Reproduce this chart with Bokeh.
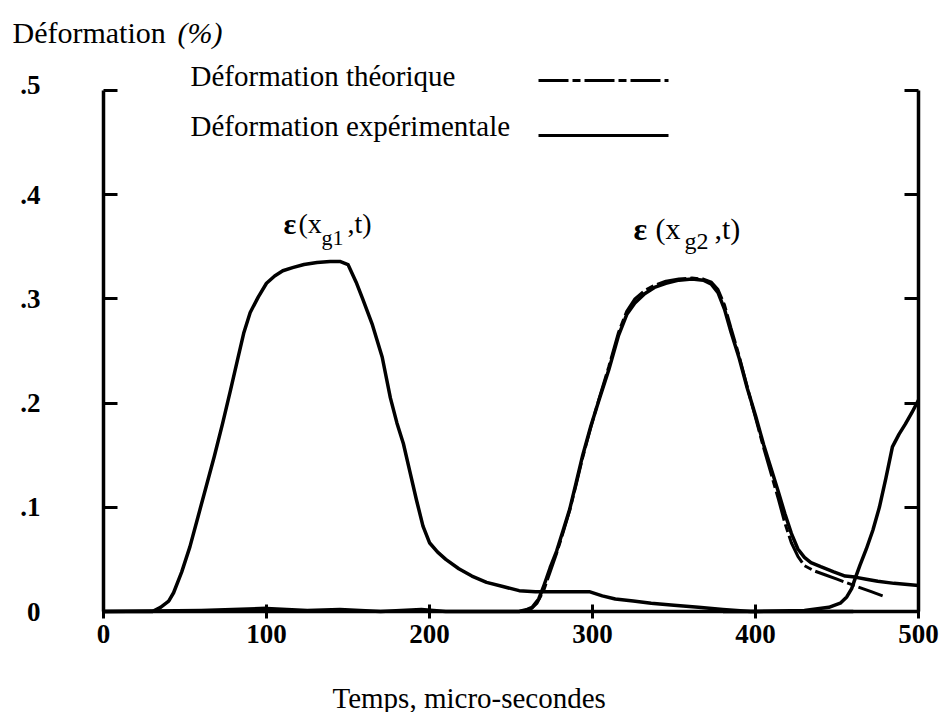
from bokeh.plotting import figure
from bokeh.models import Range1d, LinearAxis, FixedTicker, CustomJSTickFormatter, Label
from bokeh.embed import file_html
from bokeh.resources import INLINE

# ---------------- data ----------------
# experimental strain, gauge 1
t_exp1 = [0, 30, 35, 40, 43, 48, 53, 58, 63, 68, 73, 78, 82, 86, 90, 95, 100, 105, 110, 116,
          123, 131, 139, 145, 150, 155, 159, 165, 171, 176, 180, 184, 188, 192, 196, 200, 205,
          210, 218, 226, 235, 245, 255, 265, 280, 298, 306, 314, 325, 336, 350, 365, 380, 397, 460]
e_exp1 = [0, 0, 0.004, 0.010, 0.018, 0.038, 0.062, 0.091, 0.120, 0.149, 0.180, 0.213, 0.240,
          0.267, 0.287, 0.302, 0.315, 0.322, 0.327, 0.330, 0.333, 0.335, 0.336, 0.336, 0.333,
          0.316, 0.300, 0.275, 0.244, 0.205, 0.181, 0.161, 0.134, 0.107, 0.082, 0.066, 0.057,
          0.050, 0.041, 0.034, 0.028, 0.024, 0.020, 0.019, 0.019, 0.019, 0.015, 0.012, 0.010,
          0.008, 0.006, 0.004, 0.002, 0.0, 0.0]

# experimental strain, gauge 2
t_exp2 = [0, 60, 100, 125, 145, 170, 195, 210, 255, 260, 263, 267, 270, 274, 278, 282, 286, 290,
          294, 299, 304, 310, 316, 321, 326, 332, 338, 345, 353, 361, 368, 373, 377, 381, 385,
          390, 395, 400, 405, 410, 414, 418, 422, 426, 430, 434, 440, 448, 455, 461, 468, 475,
          485, 500]
e_exp2 = [0, 0.001, 0.003, 0.001, 0.002, 0, 0.002, 0, 0, 0.002, 0.004, 0.012, 0.024, 0.042,
          0.058, 0.078, 0.098, 0.124, 0.150, 0.178, 0.203, 0.232, 0.265, 0.285, 0.296, 0.305,
          0.311, 0.315, 0.318, 0.319, 0.318, 0.314, 0.306, 0.290, 0.268, 0.243, 0.214, 0.188,
          0.160, 0.135, 0.115, 0.094, 0.075, 0.060, 0.052, 0.047, 0.043, 0.038, 0.034, 0.033,
          0.031, 0.029, 0.027, 0.025]

# theoretical strain, gauge 2
t_theo = [255, 262, 266, 270, 274, 278, 282, 286, 290, 294, 299, 304, 310, 316, 321, 326, 332,
          338, 345, 353, 361, 368, 373, 377, 381, 385, 390, 395, 400, 405, 410, 414, 418, 422,
          426, 430, 436, 443, 450, 457, 464, 471, 478]
e_theo = [0, 0.002, 0.008, 0.020, 0.038, 0.056, 0.076, 0.097, 0.122, 0.148, 0.177, 0.204, 0.235,
          0.268, 0.288, 0.300, 0.308, 0.313, 0.317, 0.319, 0.320, 0.319, 0.316, 0.309, 0.294,
          0.272, 0.245, 0.215, 0.186, 0.157, 0.130, 0.108, 0.085, 0.066, 0.053, 0.044, 0.039,
          0.035, 0.031, 0.027, 0.023, 0.019, 0.015]

# experimental strain, third pulse
t_exp3 = [380, 400, 430, 445, 452, 456, 459, 461, 464, 468, 472, 476, 480, 484, 488, 492, 496, 500]
e_exp3 = [0, 0, 0.001, 0.004, 0.008, 0.014, 0.022, 0.031, 0.044, 0.060, 0.078, 0.100, 0.128,
          0.158, 0.170, 0.180, 0.191, 0.203]

x_ticks = [0, 100, 200, 300, 400, 500]
y_ticks = [0, 0.1, 0.2, 0.3, 0.4, 0.5]

legend_theo = "Déformation théorique"
legend_exp = "Déformation expérimentale"
y_title = "Déformation"
y_unit = "(%)"
x_title = "Temps, micro-secondes"

# ---------------- layout: frame fills the canvas, axes at fixed locations ----------------
W, H = 948, 712
PX0, PX500 = 103, 918      # page x of t=0 and t=500
PY0, PY05 = 611, 90        # page y of 0 and 0.5
KX = (PX500 - PX0) / 500.0
KY = (PY0 - PY05) / 0.5
SERIF = "Liberation Serif"

def X(px):
    return (px - PX0) / KX

def Y(py):
    return (PY0 - py) / KY

p = figure(width=W, height=H, output_backend="svg", toolbar_location=None,
           x_range=Range1d(X(0), X(W)), y_range=Range1d(Y(H), Y(0)),
           x_axis_location=None, y_axis_location=None,
           min_border=0, min_border_left=0, min_border_right=0,
           min_border_top=0, min_border_bottom=0)
p.outline_line_color = None
p.grid.visible = False
p.background_fill_color = "white"
p.border_fill_color = "white"

def style(ax):
    ax.axis_line_width = 3.5
    ax.axis_line_color = "black"
    ax.major_tick_line_width = 3
    ax.major_tick_line_color = "black"
    ax.minor_tick_line_color = None
    ax.major_label_text_font = SERIF
    ax.major_label_text_font_style = "bold"
    ax.major_label_text_font_size = "27px"
    ax.major_label_text_color = "black"

xa = LinearAxis(ticker=FixedTicker(ticks=x_ticks), bounds=(0, 500), fixed_location=0)
style(xa)
xa.major_tick_in = 7
xa.major_tick_out = 7
xa.major_label_standoff = 6
p.add_layout(xa, "below")

# the top label ".5" sits higher than its tick in the original; drawn separately below
ya = LinearAxis(ticker=FixedTicker(ticks=y_ticks), bounds=(0, 0.5), fixed_location=0,
                formatter=CustomJSTickFormatter(
                    code="if (tick > 0.45) return ''; return tick == 0 ? '0' : '.' + Math.round(tick*10);"))
style(ya)
ya.major_tick_in = 14
ya.major_tick_out = 0
ya.major_label_standoff = 63
p.add_layout(ya, "left")

yr = LinearAxis(ticker=FixedTicker(ticks=y_ticks), bounds=(0, 0.5), fixed_location=500,
                formatter=CustomJSTickFormatter(code="return '';"))
style(yr)
yr.major_tick_in = 14
yr.major_tick_out = 0
yr.major_label_standoff = 0
p.add_layout(yr, "right")

# curves
p.line(t_exp1, e_exp1, line_width=3.5, line_color="black", line_join="round")
p.line(t_exp2, e_exp2, line_width=3.5, line_color="black", line_join="round")
p.line(t_theo, e_theo, line_width=3, line_color="black", line_dash="30 4 8 4")
p.line(t_exp3, e_exp3, line_width=3.5, line_color="black", line_join="round")

# legend (label then line sample)
p.segment(x0=[X(538)], y0=[Y(80)], x1=[X(668)], y1=[Y(80)], line_width=3, line_color="black",
          line_dash="30 4 8 4")
p.segment(x0=[X(538)], y0=[Y(135)], x1=[X(668)], y1=[Y(135)], line_width=3, line_color="black")

def txt(s, px, py, size="29px", style="normal", align="left"):
    p.add_layout(Label(x=X(px), y=Y(py), text=s, text_font=SERIF, text_font_size=size,
                       text_font_style=style, text_align=align, text_baseline="alphabetic",
                       text_color="black"))

txt(legend_theo, 190, 75)
txt(legend_exp, 190, 125)
txt(y_title, 12, 32, size="30px")
txt(y_unit, 177, 32, size="30px", style="italic")
txt(x_title, 332, 697)
txt("." + str(int(y_ticks[-1] * 10)), 40, 84, size="27px", style="bold", align="right")

# curve annotations  ε(x_g1,t)  and  ε(x_g2,t)
txt("ε", 283, 223, size="30px", style="bold")
txt("(x", 298, 223, size="28px")
txt("g1", 321, 237, size="22px")
txt(",t)", 347, 223, size="28px")
txt("ε", 633, 228, size="32px", style="bold")
txt("(x", 655, 228, size="30px")
txt("g2", 684, 240, size="24px")
txt(",t)", 714, 228, size="30px")

open("out.html", "w").write(file_html(p, INLINE))
